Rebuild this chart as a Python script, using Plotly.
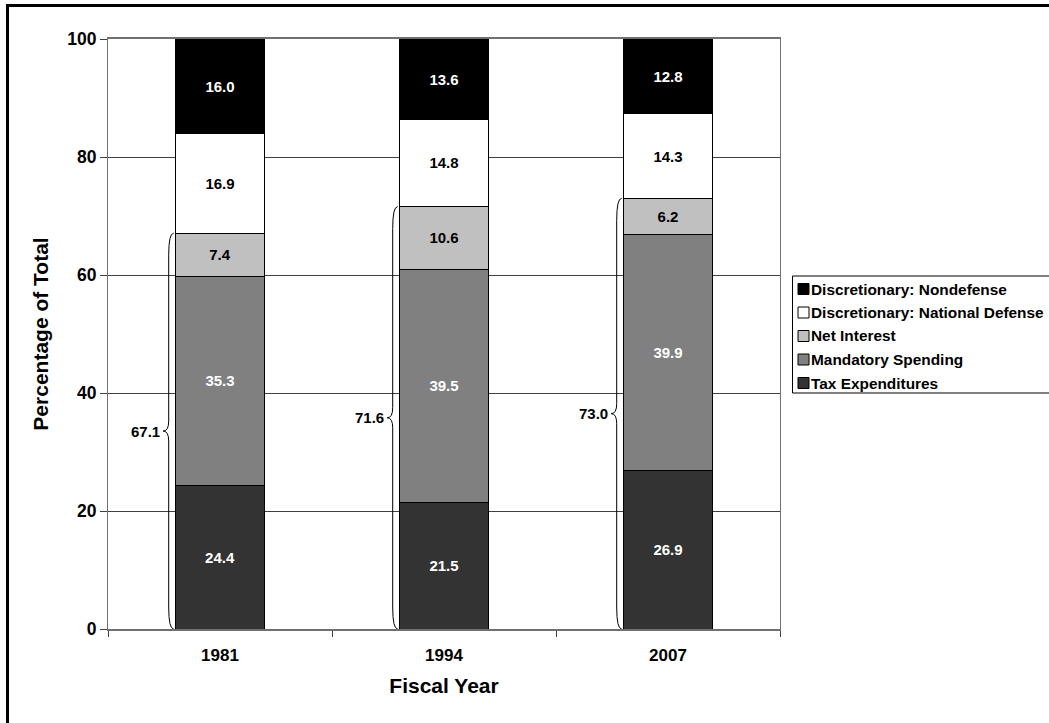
import plotly.graph_objects as go

# Fiscal years and shares of total federal resources (percent)
years = ["1981", "1994", "2007"]
tax_expenditures = [24.4, 21.5, 26.9]
mandatory_spending = [35.3, 39.5, 39.9]
net_interest = [7.4, 10.6, 6.2]
national_defense = [16.9, 14.8, 14.3]
nondefense = [16.0, 13.6, 12.8]
# Combined tax expenditures + mandatory + net interest, shown with a brace
bracket_totals = [67.1, 71.6, 73.0]

series_names = [
    "Tax Expenditures",
    "Mandatory Spending",
    "Net Interest",
    "Discretionary: National Defense",
    "Discretionary: Nondefense",
]
series_values = [tax_expenditures, mandatory_spending, net_interest,
                 national_defense, nondefense]
series_colors = ["#333333", "#808080", "#c0c0c0", "#ffffff", "#000000"]
label_colors = ["#ffffff", "#ffffff", "#000000", "#000000", "#ffffff"]

FONT = "Liberation Sans, Arial, sans-serif"
W, H = 1049, 723
ML, MR, MT, MB = 108, 269, 39, 94
PW, PH = W - ML - MR, H - MT - MB
BAR_W = 0.4

x_pos = list(range(len(years)))

fig = go.Figure()
for name, vals, col, tcol in zip(series_names, series_values,
                                 series_colors, label_colors):
    fig.add_trace(go.Bar(
        x=x_pos, y=vals, name=name, width=BAR_W,
        marker=dict(color=col, line=dict(color="#000000", width=1)),
        texttemplate="%{y:.1f}", textposition="inside",
        insidetextanchor="middle", textangle=0,
        textfont=dict(family=FONT, size=15, color=tcol, weight="bold"),
        showlegend=False, hoverinfo="skip",
    ))


def px_x(dpx):
    """Convert a pixel offset along x to data units."""
    return dpx * (len(years)) / PW


def px_y(dpx):
    """Convert a pixel offset along y to data units (0-100 axis)."""
    return dpx * 100.0 / PH


def paper_x(p):
    return (p - ML) / PW


def paper_y(p):
    return (MT + PH - p) / PH


shapes = []
annotations = []

# Curly braces to the left of each bar spanning 0..bracket total
for i, tot in enumerate(bracket_totals):
    xl = x_pos[i] - BAR_W / 2
    x_end = xl - px_x(1.5)
    x_line = xl - px_x(6.5)
    x_tip = xl - px_x(12)
    mid = tot / 2
    c = px_y(22)
    t = px_y(10)
    path = (
        f"M{x_end},{tot} "
        f"Q{x_line},{tot} {x_line},{tot - c} "
        f"L{x_line},{mid + t} "
        f"Q{x_line},{mid} {x_tip},{mid} "
        f"Q{x_line},{mid} {x_line},{mid - t} "
        f"L{x_line},{c} "
        f"Q{x_line},0 {x_end},0"
    )
    shapes.append(dict(type="path", path=path, xref="x", yref="y",
                       line=dict(color="#000000", width=1)))
    annotations.append(dict(
        x=x_tip, y=mid, xref="x", yref="y", text=f"{tot:.1f}",
        showarrow=False, xanchor="right", yanchor="middle", xshift=-1,
        font=dict(family=FONT, size=15, color="#000000", weight="bold"),
    ))

# Outer frame around the chart
shapes.append(dict(type="rect", xref="paper", yref="paper",
                   x0=paper_x(7.5), x1=paper_x(1070),
                   y0=paper_y(740), y1=paper_y(5.5),
                   line=dict(color="#000000", width=3), layer="above"))

# Legend box with swatches (top of stack listed first)
shapes.append(dict(type="rect", xref="paper", yref="paper",
                   x0=paper_x(792.5), x1=paper_x(1070),
                   y0=paper_y(393), y1=paper_y(276),
                   line=dict(color="#000000", width=1),
                   fillcolor="#ffffff"))
legend_order = list(range(len(series_names)))[::-1]
for row, k in enumerate(legend_order):
    cy = 289 + 23.5 * row
    shapes.append(dict(type="rect", xref="paper", yref="paper",
                       x0=paper_x(798), x1=paper_x(809),
                       y0=paper_y(cy + 5.5), y1=paper_y(cy - 5.5),
                       line=dict(color="#000000", width=1),
                       fillcolor=series_colors[k]))
    annotations.append(dict(
        x=paper_x(809), y=paper_y(cy), xref="paper", yref="paper",
        text=series_names[k], showarrow=False, xanchor="left",
        yanchor="middle",
        font=dict(family=FONT, size=15.4, color="#000000", weight="bold"),
    ))

fig.update_layout(
    width=W, height=H,
    margin=dict(l=ML, r=MR, t=MT, b=MB, autoexpand=False),
    paper_bgcolor="#ffffff", plot_bgcolor="#ffffff",
    barmode="stack", bargap=0.6,
    font=dict(family=FONT, color="#000000", weight="bold"),
    shapes=shapes, annotations=annotations,
    xaxis=dict(
        range=[-0.5, 2.5], tickmode="array", tickvals=x_pos, ticktext=years,
        ticks="outside", ticklen=10, tickcolor="rgba(0,0,0,0)",
        tickfont=dict(family=FONT, size=17, weight="bold"),
        showgrid=False, zeroline=False,
        showline=True, linecolor="#707070", linewidth=2, mirror=True,
        minor=dict(tickmode="array", tickvals=[-0.5, 0.5, 1.5, 2.5],
                   ticks="outside", ticklen=6, tickcolor="#404040",
                   tickwidth=1, showgrid=False),
        title=dict(text="Fiscal Year", standoff=14,
                   font=dict(family=FONT, size=21, weight="bold")),
        fixedrange=True,
    ),
    yaxis=dict(
        range=[0, 100], tickmode="array", tickvals=[0, 20, 40, 60, 80, 100],
        ticks="outside", ticklen=7, tickcolor="#404040",
        tickfont=dict(family=FONT, size=17.5, weight="bold"),
        showgrid=True, gridcolor="#404040", gridwidth=1, zeroline=False,
        showline=True, linecolor="#707070", linewidth=1, mirror=True,
        title=dict(text="Percentage of Total", standoff=12,
                   font=dict(family=FONT, size=21, weight="bold")),
        fixedrange=True,
    ),
)

fig.write_html("out.html")
